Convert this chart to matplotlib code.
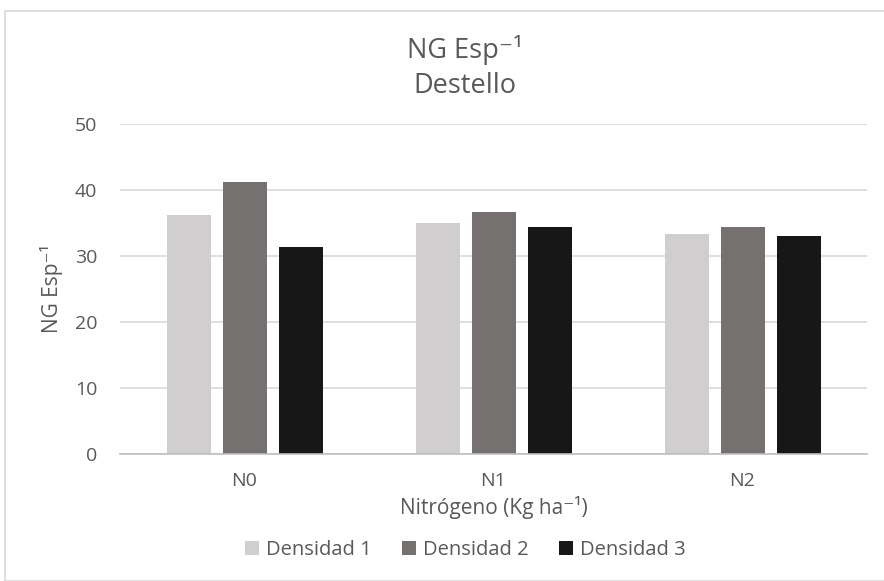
import matplotlib
matplotlib.use("Agg")
import matplotlib.pyplot as plt
import numpy as np
from matplotlib.patches import Rectangle

plt.rcParams['font.family'] = ['Open Sans', 'DejaVu Sans']

categories = ["N0", "N1", "N2"]
series_names = ["Densidad 1", "Densidad 2", "Densidad 3"]
densidad1 = [36.2, 34.95, 33.4]
densidad2 = [41.25, 36.7, 34.4]
densidad3 = [31.3, 34.4, 33.0]
colors = ["#d0cece", "#767171", "#171717"]
yticks = [0, 10, 20, 30, 40, 50]

text_color = "#595959"

left_px, right_px, top_px, bottom_px = 120, 867, 124, 454
fig = plt.figure(figsize=(8.84, 5.81), dpi=100)
ax = fig.add_axes([left_px / 884, 1 - bottom_px / 581,
                   (right_px - left_px) / 884, (bottom_px - top_px) / 581])

cat_px = (right_px - left_px) / 3
x = np.arange(len(categories))
width = 44 / cat_px
step = 56 / cat_px
for i, (vals, name, c) in enumerate(zip([densidad1, densidad2, densidad3], series_names, colors)):
    ax.bar(x + (i - 1) * step, vals, width=width, color=c, label=name, zorder=3)

ax.set_xlim(-0.5, 2.5)
ax.set_ylim(0, 50)
ax.set_yticks(yticks)
ax.yaxis.grid(True, color="#d9d9d9", linewidth=1.2, zorder=0)
ax.set_axisbelow(True)
for s in ["top", "right", "left"]:
    ax.spines[s].set_visible(False)
ax.spines["bottom"].set_color("#bfbfbf")
ax.spines["bottom"].set_linewidth(1.2)
ax.spines["bottom"].set_zorder(4)
ax.tick_params(axis="both", length=0, colors=text_color, labelsize=14)
ax.tick_params(axis="y", pad=16.5)
ax.tick_params(axis="x", pad=13)
ax.set_xticks(x)
ax.set_xticklabels(categories)

ax.set_ylabel("NG Esp⁻¹", fontsize=15, color=text_color)
ax.yaxis.set_label_coords((63 - left_px) / (right_px - left_px), 0.5)
ax.set_xlabel("Nitrógeno (Kg ha⁻¹)", fontsize=15, color=text_color, labelpad=4)

cx = 465 / 884
fig.text(cx, 1 - 50 / 581, "NG Esp⁻¹", ha="center", va="center",
         fontsize=19.5, color=text_color)
fig.text(cx, 1 - 86 / 581, "Destello", ha="center", va="center",
         fontsize=19.5, color=text_color)

leg = fig.legend(loc="center", bbox_to_anchor=(cx, 1 - 550 / 581), ncol=3,
                 frameon=False, fontsize=14.5, handlelength=0.7, handleheight=0.7,
                 handletextpad=0.35, columnspacing=1.5)
for t in leg.get_texts():
    t.set_color(text_color)

fig.patches.append(Rectangle((5 / 884, 0), 1, 1 - 11 / 581, transform=fig.transFigure,
                             fill=False, edgecolor="#d9d9d9", linewidth=1.2))

fig.savefig("out.png", dpi=100, facecolor="white")
